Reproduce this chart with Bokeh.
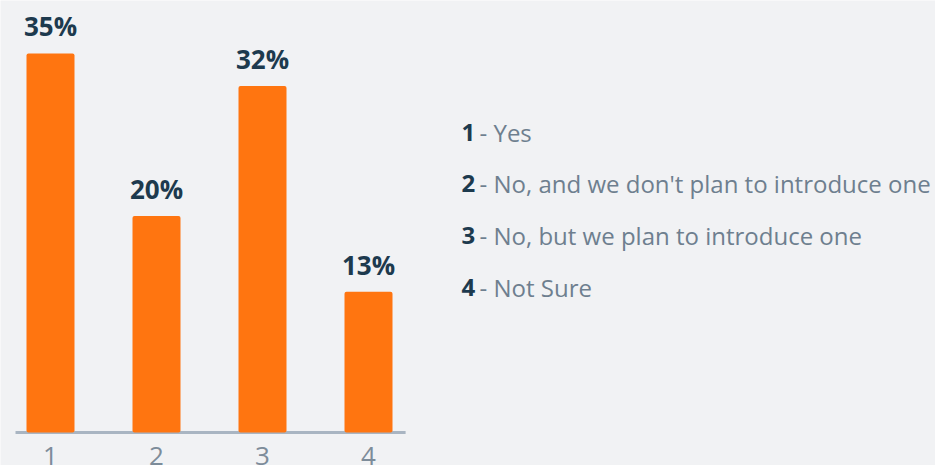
from bokeh.plotting import figure
from bokeh.models import Range1d, ColumnDataSource, Label
from bokeh.core.properties import value
from bokeh.embed import file_html
from bokeh.resources import INLINE

# Survey answers
categories = [1, 2, 3, 4]
shares = [35, 20, 32, 13]
share_labels = ["35%", "20%", "32%", "13%"]
tick_labels = ["1", "2", "3", "4"]
legend_numbers = ["1", "2", "3", "4"]
legend_texts = ["- Yes", "- No, and we don't plan to introduce one",
                "- No, but we plan to introduce one", "- Not Sure"]

BG = "#f1f2f4"
ORANGE = "#ff7510"
NAVY = "#1d3a4e"
GRAY = "#6e7f8f"
TICK_GRAY = "#7d8c9a"
AXIS = "#a9b5c2"
FONT = value("Open Sans")

W, H = 935, 465
px_per_x = 106.0
px_per_y = 10.83
base_px = 432

p = figure(width=W, height=H, output_backend="svg", toolbar_location=None,
           x_axis_type=None, y_axis_type=None, min_border=0,
           x_range=Range1d(1 - 50 / px_per_x, 1 + (W - 50) / px_per_x),
           y_range=Range1d(-(H - base_px) / px_per_y, base_px / px_per_y))
p.grid.visible = False
p.outline_line_color = None
p.background_fill_color = BG
p.border_fill_color = BG

src = ColumnDataSource(dict(x=categories, top=shares, lab=share_labels, tick=tick_labels))

# baseline axis line
p.segment(x0=[categories[0] - 0.33], x1=[categories[-1] + 0.35], y0=[0], y1=[0],
          line_color=AXIS, line_width=3)

p.vbar(x="x", top="top", bottom=0, width=48 / px_per_x, source=src,
       fill_color=ORANGE, line_color=None, border_radius=2)

# value labels above bars
p.text(x="x", y="top", text="lab", source=src, text_align="center",
       text_baseline="middle", y_offset=-27, text_font=FONT,
       text_font_size="26px", text_font_style="bold", text_color=NAVY)

# category tick labels under the axis line
p.text(x="x", y=0, text="tick", source=src, text_align="center",
       text_baseline="middle", y_offset=23, text_font=FONT,
       text_font_size="26px", text_color=TICK_GRAY)

# legend on the right
row_y = [131.5, 183.3, 235.1, 286.9]
for num, txt, yy in zip(legend_numbers, legend_texts, row_y):
    p.add_layout(Label(x=461, y=H - yy, x_units="screen", y_units="screen",
                       text=num, text_font="Open Sans", text_font_size="24px",
                       text_font_style="bold", text_color=NAVY,
                       text_baseline="middle"))
    p.add_layout(Label(x=479, y=H - yy, x_units="screen", y_units="screen",
                       text=txt, text_font="Open Sans", text_font_size="24px",
                       text_color=GRAY, text_baseline="middle"))

open("out.html", "w").write(file_html(p, INLINE))
